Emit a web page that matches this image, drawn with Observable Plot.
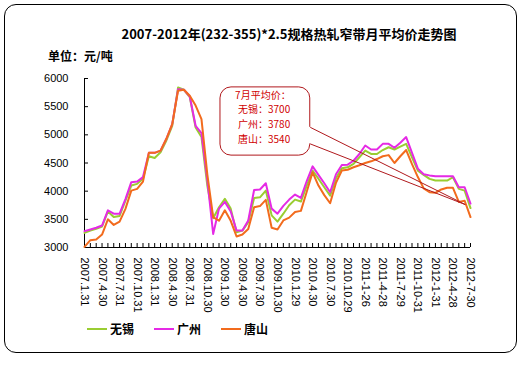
<!DOCTYPE html>
<html><head><meta charset="utf-8">
<script src="https://cdn.jsdelivr.net/npm/d3@7"></script>
<script src="https://cdn.jsdelivr.net/npm/@observablehq/plot@0.6"></script>
<style>
body{margin:0;background:#fff;}
#wrap{position:relative;width:529px;height:384px;background:#fff;overflow:hidden;font-family:"Noto Sans CJK SC",sans-serif;color:#000;}
#frame{position:absolute;left:4px;top:4px;width:513px;height:349px;border:1px solid #000;border-radius:12px;box-sizing:border-box;}
#title{position:absolute;left:0;width:578px;top:25px;text-align:center;font-weight:bold;font-size:13px;line-height:18px;white-space:nowrap;}
#unit{position:absolute;left:48px;top:47px;font-weight:bold;font-size:12px;line-height:18px;}
#chart{position:absolute;left:0;top:0;}
#legend{position:absolute;left:87px;top:320px;display:flex;}
.item{width:67px;display:flex;align-items:center;font-weight:bold;font-size:12px;line-height:18px;}
.sw{width:20px;height:2px;margin-right:3px;}
</style>
</head><body>
<div id="wrap">
  <div id="frame"></div>
  <div id="title">2007-2012年(232-355)*2.5规格热轧窄带月平均价走势图</div>
  <div id="unit">单位：元/吨</div>
  <div id="chart"></div>
  <div id="legend"></div>
</div>
<script>
// monthly index 0 = 2007-01 ... 66 = 2012-07
const seriesNames = ["无锡", "广州", "唐山"];
const seriesColors = ["#9ACD32", "#E52AE5", "#F26B1D"];
const wuxi = [3260,3300,3330,3370,3640,3540,3560,3830,4100,4130,4220,4620,4590,4690,4900,5160,5840,5800,5670,5130,4960,4100,3520,3715,3865,3690,3270,3300,3450,3880,3890,4010,3570,3460,3600,3750,3850,3816,4100,4365,4220,4070,3920,4230,4406,4424,4484,4600,4720,4660,4660,4730,4780,4740,4790,4840,4600,4365,4290,4218,4188,4188,4188,4247,4040,4010,3700];
const guangzhou = [3290,3320,3350,3390,3660,3600,3600,3860,4160,4170,4250,4680,4680,4720,4930,5190,5810,5800,5680,5160,5030,4200,3240,3690,3810,3640,3300,3300,3480,4020,4030,4140,3690,3600,3740,3850,3940,3880,4180,4440,4290,4140,3980,4300,4466,4470,4540,4660,4810,4740,4740,4840,4840,4770,4860,4960,4680,4400,4300,4280,4265,4265,4265,4265,4070,4070,3780];
const tangshan = [3010,3130,3140,3230,3500,3400,3460,3686,4010,4040,4170,4680,4680,4720,4930,5190,5784,5800,5695,5520,5280,4300,3540,3475,3660,3473,3195,3230,3330,3715,3735,3845,3350,3320,3480,3530,3630,3650,3990,4335,4100,3930,3786,4150,4365,4380,4424,4460,4500,4530,4570,4620,4640,4500,4620,4730,4480,4250,4050,3980,3970,4030,4060,4060,3810,3830,3540];
const tickLabels = ["2007.1.31","2007.4.30","2007.7.31","2007.10.31","2008.1.31","2008.4.30","2008.7.31","2008.10.30","2009.1.30","2009.4.30","2009.7.30","2009.10.30","2010.1.29","2010.4.30","2010.7.30","2010.10.29","2011-1-26","2011-4-28","2011-7-29","2011-10-31","2012-1-31","2012-4-28","2012-7-30"];
const yTicks = [3000, 3500, 4000, 4500, 5000, 5500, 6000];
const calloutTitle = "7月平均价：";
// callout annotation anchors, in data units (month index, price)
const calloutBox = {x1: 23.25, x2: 38.6, y1: 4631, y2: 5842};
const calloutPointer = {yTop: 5133, yBottom: 4839, tipX: 65.1, tipY: 3762};
const calloutTextTop = 5695;   // centre of first text line
const calloutLineStep = 259;   // price units between text lines

const seriesValues = [wuxi, guangzhou, tangshan];
const months = d3.range(wuxi.length);
const labelIdx = tickLabels.map((_, k) => k * 3);
const data = seriesNames.flatMap((name, k) => seriesValues[k].map((v, i) => ({i, v, name})));
const last = wuxi.length - 1;
const calloutLines = [
  {k: 0, t: calloutTitle, indent: 0},
  ...seriesNames.map((n, k) => ({k: k + 1, t: n + "：" + seriesValues[k][last], indent: 0.5}))
];
const red = "#B0181C";

const chart = Plot.plot({
  width: 529, height: 320,
  marginLeft: 84, marginRight: 59, marginTop: 78, marginBottom: 73,
  style: {fontFamily: "'Liberation Sans', Arial, sans-serif", fontSize: "11px", background: "transparent", color: "#000"},
  x: {domain: [0, last]},
  y: {domain: [3000, 6000]},
  marks: [
    Plot.axisY({ticks: yTicks, tickSize: -4, tickPadding: 20, tickFormat: d => String(d), label: null, fontSize: 11}),
    Plot.axisX({ticks: months, tickSize: -4, tickFormat: () => "", label: null}),
    Plot.axisX({ticks: labelIdx, tickSize: 0, tickPadding: 10, tickRotate: 90, tickFormat: i => tickLabels[i / 3], label: null, fontSize: 11}),
    Plot.ruleX([0], {stroke: "#000"}),
    Plot.ruleY([3000], {stroke: "#000"}),
    Plot.line(data, {x: "i", y: "v", z: "name", stroke: d => seriesColors[seriesNames.indexOf(d.name)], strokeWidth: 2}),
    Plot.rect([calloutBox], {x1: "x1", x2: "x2", y1: "y1", y2: "y2", fill: "white", stroke: red, strokeWidth: 1, rx: 11}),
    Plot.ruleX([calloutBox], {x: "x2", y1: () => calloutPointer.yTop, y2: () => calloutPointer.yBottom, stroke: "white", strokeWidth: 3}),
    Plot.link([calloutPointer.yTop, calloutPointer.yBottom], {x1: () => calloutBox.x2, y1: d => d, x2: () => calloutPointer.tipX, y2: () => calloutPointer.tipY, stroke: red, strokeWidth: 1}),
    Plot.text(calloutLines, {x: d => calloutBox.x1 + 2.5 + d.indent, y: d => calloutTextTop - d.k * calloutLineStep, text: "t", textAnchor: "start", fill: "#D00000", fontSize: 10, fontFamily: "'Noto Sans CJK SC', sans-serif"})
  ]
});
document.getElementById("chart").appendChild(chart);

const legend = document.getElementById("legend");
seriesNames.forEach((n, k) => {
  const it = document.createElement("div");
  it.className = "item";
  it.innerHTML = `<span class="sw" style="background:${seriesColors[k]}"></span><span>${n}</span>`;
  legend.appendChild(it);
});
</script>
</body></html>
